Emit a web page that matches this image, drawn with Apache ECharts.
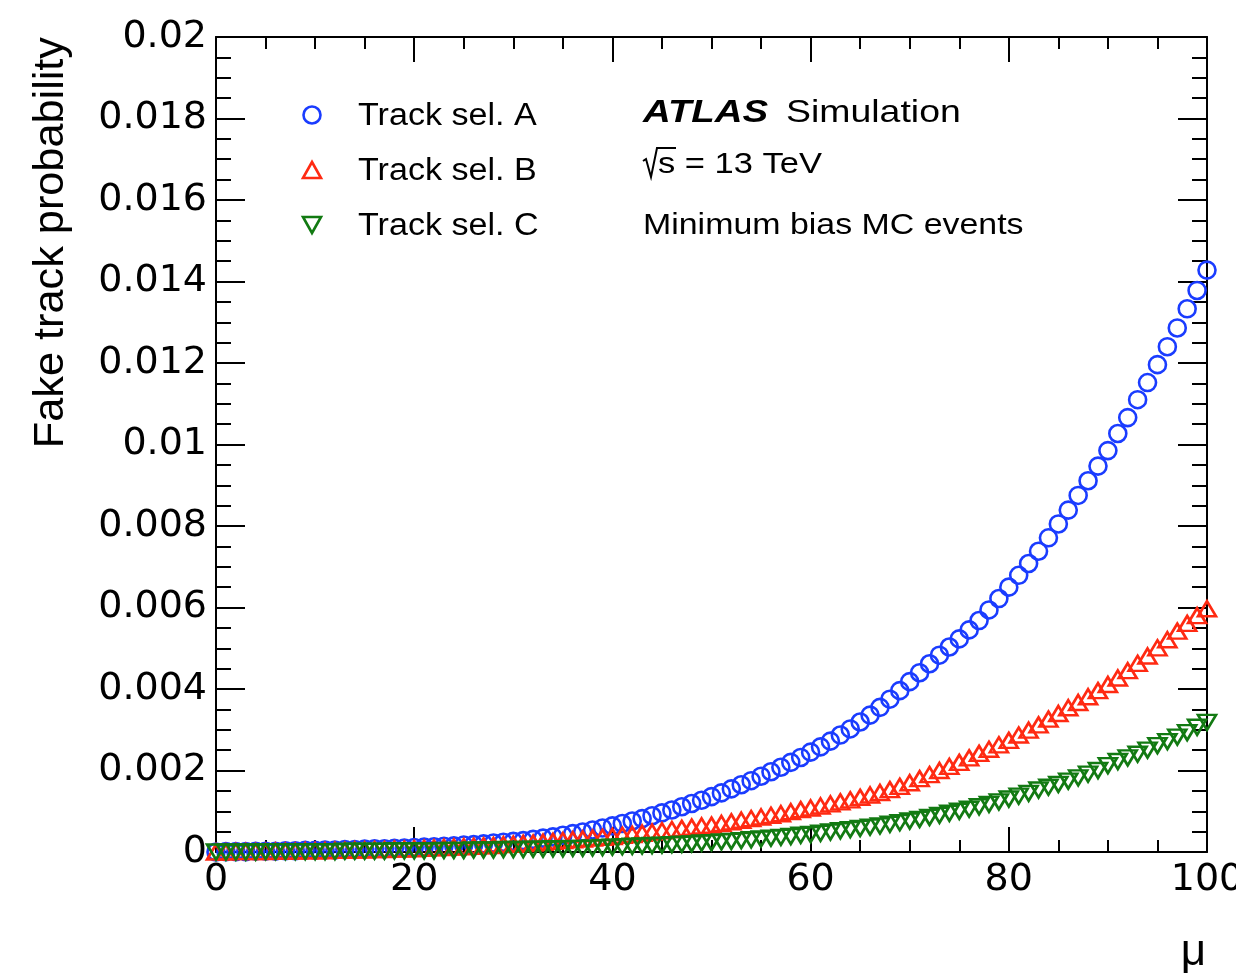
<!DOCTYPE html>
<html>
<head>
<meta charset="utf-8">
<script src="https://cdn.jsdelivr.net/npm/echarts/dist/echarts.min.js"></script>
<style>
  html, body { margin: 0; padding: 0; background: #ffffff; }
  #chart { width: 1236px; height: 978px; }
</style>
</head>
<body>
<div id="chart"></div>
<script>
// Pile-up values (mu) at which the fake-track probability was evaluated
const mu = [
  0, 1, 2, 3, 4, 5, 6, 7, 8, 9,
  10, 11, 12, 13, 14, 15, 16, 17, 18, 19,
  20, 21, 22, 23, 24, 25, 26, 27, 28, 29,
  30, 31, 32, 33, 34, 35, 36, 37, 38, 39,
  40, 41, 42, 43, 44, 45, 46, 47, 48, 49,
  50, 51, 52, 53, 54, 55, 56, 57, 58, 59,
  60, 61, 62, 63, 64, 65, 66, 67, 68, 69,
  70, 71, 72, 73, 74, 75, 76, 77, 78, 79,
  80, 81, 82, 83, 84, 85, 86, 87, 88, 89,
  90, 91, 92, 93, 94, 95, 96, 97, 98, 99,
  100
];

// Fake track probability, Track sel. A
const selA = [
  0.00000, 0.00001, 0.00001, 0.00001, 0.00002, 0.00002, 0.00002, 0.00003, 0.00003, 0.00004,
  0.00004, 0.00005, 0.00005, 0.00006, 0.00006, 0.00007, 0.00008, 0.00008, 0.00009, 0.00010,
  0.00011, 0.00012, 0.00013, 0.00014, 0.00015, 0.00017, 0.00018, 0.00020, 0.00022, 0.00024,
  0.00026, 0.00028, 0.00031, 0.00034, 0.00037, 0.00041, 0.00045, 0.00049, 0.00054, 0.00059,
  0.00064, 0.00070, 0.00076, 0.00082, 0.00089, 0.00096, 0.00103, 0.00111, 0.00119, 0.00127,
  0.00136, 0.00145, 0.00155, 0.00165, 0.00175, 0.00186, 0.00197, 0.00208, 0.00220, 0.00232,
  0.00245, 0.00258, 0.00272, 0.00287, 0.00302, 0.00319, 0.00336, 0.00355, 0.00375, 0.00396,
  0.00418, 0.00440, 0.00462, 0.00483, 0.00503, 0.00523, 0.00545, 0.00568, 0.00594, 0.00622,
  0.00650, 0.00679, 0.00708, 0.00738, 0.00771, 0.00805, 0.00839, 0.00875, 0.00911, 0.00947,
  0.00985, 0.01027, 0.01066, 0.01110, 0.01152, 0.01196, 0.01240, 0.01286, 0.01333, 0.01378,
  0.01428
];

// Fake track probability, Track sel. B
const selB = [
  0.00000, 0.00000, 0.00001, 0.00001, 0.00001, 0.00001, 0.00002, 0.00002, 0.00002, 0.00003,
  0.00003, 0.00003, 0.00004, 0.00004, 0.00005, 0.00005, 0.00006, 0.00006, 0.00007, 0.00007,
  0.00008, 0.00009, 0.00010, 0.00011, 0.00012, 0.00013, 0.00014, 0.00015, 0.00016, 0.00018,
  0.00019, 0.00021, 0.00022, 0.00024, 0.00026, 0.00028, 0.00030, 0.00032, 0.00034, 0.00036,
  0.00038, 0.00041, 0.00043, 0.00046, 0.00049, 0.00052, 0.00055, 0.00058, 0.00061, 0.00064,
  0.00066, 0.00070, 0.00074, 0.00078, 0.00082, 0.00086, 0.00090, 0.00094, 0.00099, 0.00104,
  0.00108, 0.00113, 0.00118, 0.00123, 0.00128, 0.00134, 0.00140, 0.00146, 0.00153, 0.00161,
  0.00170, 0.00180, 0.00190, 0.00200, 0.00210, 0.00220, 0.00231, 0.00242, 0.00252, 0.00263,
  0.00274, 0.00287, 0.00299, 0.00312, 0.00326, 0.00340, 0.00354, 0.00367, 0.00381, 0.00396,
  0.00411, 0.00427, 0.00445, 0.00463, 0.00481, 0.00501, 0.00521, 0.00542, 0.00561, 0.00580,
  0.00597
];

// Fake track probability, Track sel. C
const selC = [
  0.00000, 0.00000, 0.00000, 0.00000, 0.00000, 0.00001, 0.00001, 0.00001, 0.00001, 0.00001,
  0.00001, 0.00001, 0.00001, 0.00002, 0.00002, 0.00002, 0.00002, 0.00002, 0.00003, 0.00003,
  0.00003, 0.00003, 0.00003, 0.00004, 0.00004, 0.00004, 0.00005, 0.00005, 0.00005, 0.00006,
  0.00006, 0.00006, 0.00007, 0.00007, 0.00008, 0.00008, 0.00009, 0.00009, 0.00010, 0.00011,
  0.00012, 0.00013, 0.00014, 0.00015, 0.00016, 0.00017, 0.00018, 0.00019, 0.00020, 0.00022,
  0.00023, 0.00025, 0.00026, 0.00028, 0.00030, 0.00032, 0.00034, 0.00036, 0.00038, 0.00041,
  0.00043, 0.00046, 0.00049, 0.00052, 0.00055, 0.00058, 0.00061, 0.00064, 0.00068, 0.00072,
  0.00076, 0.00080, 0.00085, 0.00090, 0.00095, 0.00100, 0.00105, 0.00111, 0.00117, 0.00123,
  0.00130, 0.00137, 0.00144, 0.00152, 0.00159, 0.00166, 0.00174, 0.00182, 0.00191, 0.00200,
  0.00212, 0.00222, 0.00231, 0.00240, 0.00250, 0.00261, 0.00271, 0.00282, 0.00293, 0.00306,
  0.00318
];

// Axis tick values and their printed labels
const xTicks = [0, 20, 40, 60, 80, 100];
const xTickLabels = ['0', '20', '40', '60', '80', '100'];
const yTicks = [0, 0.002, 0.004, 0.006, 0.008, 0.01, 0.012, 0.014, 0.016, 0.018, 0.02];
const yTickLabels = ['0', '0.002', '0.004', '0.006', '0.008', '0.01', '0.012', '0.014', '0.016', '0.018', '0.02'];

const seriesNames = ['Track sel. A', 'Track sel. B', 'Track sel. C'];
const infoLines = ['ATLAS', 'Simulation', 's = 13 TeV', 'Minimum bias MC events'];
const axisTitles = ['Fake track probability', 'μ'];

const BLUE = '#1a3cff';
const RED = '#ff2a12';
const GREEN = '#127a12';
const TEXT_FONT = 'Liberation Sans';
const TICK_FONT = 'DejaVu Sans';

function pairs(ys) {
  return mu.map((m, i) => [m, ys[i]]);
}

function labelFor(ticks, labels) {
  return function (v) {
    let best = 0;
    for (let i = 1; i < ticks.length; i++) {
      if (Math.abs(ticks[i] - v) < Math.abs(ticks[best] - v)) best = i;
    }
    return labels[best];
  };
}

const chart = echarts.init(document.getElementById('chart'), null, { renderer: 'canvas' });

const axisLine = { show: true, onZero: false, lineStyle: { color: '#000', width: 2 } };

function xAxisDef(pos, showLabels) {
  return {
    type: 'value', position: pos, gridIndex: 0,
    min: 0, max: 100, interval: 20,
    axisLine: axisLine,
    axisTick: { show: true, inside: true, length: 25, lineStyle: { color: '#000', width: 2 } },
    minorTick: { show: true, splitNumber: 4, length: 12, lineStyle: { color: '#000', width: 2 } },
    splitLine: { show: false },
    minorSplitLine: { show: false },
    axisLabel: {
      show: showLabels, margin: 9, color: '#000',
      fontFamily: TICK_FONT, fontSize: 38,
      formatter: labelFor(xTicks, xTickLabels)
    }
  };
}

function yAxisDef(pos, showLabels) {
  return {
    type: 'value', position: pos, gridIndex: 0,
    min: 0, max: 0.02, interval: 0.002,
    axisLine: axisLine,
    axisTick: { show: true, inside: true, length: 29, lineStyle: { color: '#000', width: 2 } },
    minorTick: { show: true, splitNumber: 4, length: 15, lineStyle: { color: '#000', width: 2 } },
    splitLine: { show: false },
    minorSplitLine: { show: false },
    axisLabel: {
      show: showLabels, margin: 9, color: '#000',
      fontFamily: TICK_FONT, fontSize: 38,
      formatter: labelFor(yTicks, yTickLabels)
    }
  };
}

function markerSeries(name, ys, symbol, size, rotate, color) {
  return {
    name: name, type: 'scatter',
    xAxisIndex: 0, yAxisIndex: 0,
    data: pairs(ys),
    symbol: symbol, symbolSize: size, symbolRotate: rotate,
    clip: false,
    itemStyle: { color: 'rgba(0,0,0,0)', borderColor: color, borderWidth: 2.6, opacity: 1 },
    emphasis: { disabled: true },
    silent: true
  };
}

function text(str, x, y, opts) {
  return Object.assign({
    type: 'text', x: x, y: y, silent: true,
    style: Object.assign({
      text: str, fill: '#000', fontFamily: TEXT_FONT, fontSize: 30,
      align: 'left', verticalAlign: 'middle'
    }, opts.style || {})
  }, opts.el || {});
}

const option = {
  animation: false,
  backgroundColor: '#ffffff',
  grid: {
    left: 216, top: 37, width: 991, height: 815,
    outerBoundsMode: 'none', containLabel: false, show: false
  },
  xAxis: [xAxisDef('bottom', true), xAxisDef('top', false)],
  yAxis: [yAxisDef('left', true), yAxisDef('right', false)],
  series: [
    markerSeries(seriesNames[0], selA, 'circle', 17, 0, BLUE),
    markerSeries(seriesNames[1], selB, 'triangle', [18, 15], 0, RED),
    markerSeries(seriesNames[2], selC, 'triangle', [18, 15], 180, GREEN)
  ],
  graphic: [
    // legend markers
    { type: 'circle', silent: true, shape: { cx: 312, cy: 115, r: 8.5 },
      style: { fill: 'none', stroke: BLUE, lineWidth: 2.6 } },
    { type: 'polygon', silent: true, shape: { points: [[303, 178], [321, 178], [312, 162]] },
      style: { fill: 'none', stroke: RED, lineWidth: 2.6 } },
    { type: 'polygon', silent: true, shape: { points: [[303, 217], [321, 217], [312, 233]] },
      style: { fill: 'none', stroke: GREEN, lineWidth: 2.6 } },
    // legend labels
    text(seriesNames[0], 358, 116, { el: { scaleX: 1.1 }, style: { fontSize: 31 } }),
    text(seriesNames[1], 358, 171, { el: { scaleX: 1.1 }, style: { fontSize: 31 } }),
    text(seriesNames[2], 358, 226, { el: { scaleX: 1.1 }, style: { fontSize: 31 } }),
    // experiment label
    text(infoLines[0], 643, 113, { el: { scaleX: 1.2 }, style: { fontSize: 32, fontWeight: 'bold', fontStyle: 'italic' } }),
    text(infoLines[1], 786, 113, { el: { scaleX: 1.17 }, style: { fontSize: 32 } }),
    { type: 'polyline', silent: true,
      shape: { points: [[643, 161], [646, 159], [651, 177], [657, 148], [676, 148]] },
      style: { fill: 'none', stroke: '#000', lineWidth: 2 } },
    text(infoLines[2], 658, 165, { el: { scaleX: 1.15 } }),
    text(infoLines[3], 643, 226, { el: { scaleX: 1.13 } }),
    // axis titles
    text(axisTitles[0], 51, 37, {
      el: { rotation: Math.PI / 2, scaleX: 1.03 },
      style: { fontSize: 42, align: 'right', verticalAlign: 'middle' }
    }),
    text(axisTitles[1], 1206, 953, {
      style: { fontSize: 44, align: 'right', verticalAlign: 'middle' }
    })
  ]
};

chart.setOption(option);
</script>
</body>
</html>
